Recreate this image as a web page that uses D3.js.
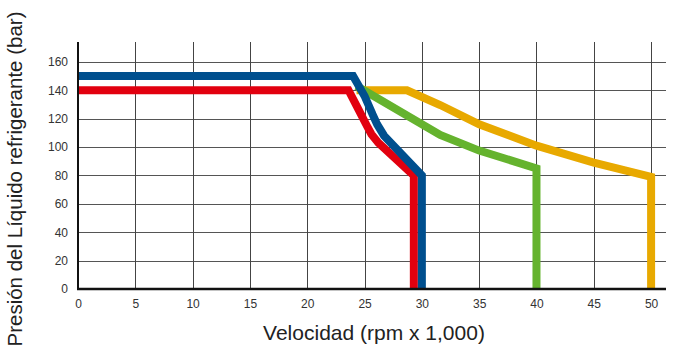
<!DOCTYPE html>
<html><head><meta charset="utf-8">
<script src="https://cdn.jsdelivr.net/npm/d3@7"></script>
<style>
html,body{margin:0;padding:0;background:#fff;}
svg{display:block;font-family:"Liberation Sans",Arial,sans-serif;}
</style></head>
<body>
<svg id="chart" width="682" height="356"></svg>
<script>
const xTicks = [0,5,10,15,20,25,30,35,40,45,50];
const yTicks = [0,20,40,60,80,100,120,140,160];
const xTitle = "Velocidad (rpm x 1,000)";
const yTitle = "Presión del Líquido refrigerante (bar)";

// series: [speed, pressure]
const orangeX = [24.3, 28.7, 31.6, 35, 40, 45, 50, 50];
const orangeY = [140, 140, 129.6, 116, 101, 89, 79, 0];
const greenX = [24.3, 31.6, 35, 40, 40];
const greenY = [143, 108.5, 97.5, 85, 0];
const redX = [0, 23.6, 24.5, 25.2, 25.6, 26.2, 29.3, 29.3];
const redY = [140, 140, 126, 115, 109, 103, 80, 0];
const blueX = [0, 24, 25, 25.7, 26.1, 26.7, 30, 30];
const blueY = [150, 150, 136, 123, 116, 108, 80, 0];

const series = [
  {x: orangeX, y: orangeY, color: "#e8a900"},
  {x: greenX, y: greenY, color: "#65b32e"},
  {x: redX, y: redY, color: "#e2000f"},
  {x: blueX, y: blueY, color: "#004f8e"}
];

const svg = d3.select("#chart");
const x = d3.scaleLinear().domain([0, 51.3]).range([78, 666]);
const y = d3.scaleLinear().domain([0, 174]).range([289, 42]);

// grid
svg.append("g").selectAll("line").data(yTicks.filter(d => d > 0)).join("line")
  .attr("x1", x(0)).attr("x2", x(51.3))
  .attr("y1", d => Math.round(y(d)) + 0.5).attr("y2", d => Math.round(y(d)) + 0.5)
  .attr("stroke", "#555").attr("stroke-width", 1);
svg.append("g").selectAll("line").data(xTicks.filter(d => d > 0)).join("line")
  .attr("y1", y(174)).attr("y2", y(0))
  .attr("x1", d => Math.round(x(d)) + 0.5).attr("x2", d => Math.round(x(d)) + 0.5)
  .attr("stroke", "#444").attr("stroke-width", 1);

// axes
const xAxis = d3.axisBottom(x).tickValues(xTicks).tickSize(0).tickPadding(10);
const gx = svg.append("g").attr("transform", `translate(0,${y(0)})`).call(xAxis);
gx.select(".domain").remove();
gx.selectAll("text").attr("font-size", 12).attr("fill", "#333").attr("font-family", "Liberation Sans, Arial, sans-serif");

const yAxis = d3.axisLeft(y).tickValues(yTicks).tickSize(0).tickPadding(10);
const gy = svg.append("g").attr("transform", `translate(${x(0)},0)`).call(yAxis);
gy.select(".domain").remove();
gy.selectAll("text").attr("font-size", 12).attr("fill", "#333").attr("font-family", "Liberation Sans, Arial, sans-serif");

// lines
const line = d3.line().x(d => x(d[0])).y(d => y(d[1]));
series.forEach(s => {
  const pts = s.x.map((v, i) => [v, s.y[i]]);
  svg.append("path").attr("d", line(pts))
    .attr("fill", "none").attr("stroke", s.color).attr("stroke-width", 8)
    .attr("stroke-linejoin", "miter").attr("stroke-linecap", "butt");
});

// axis lines
svg.append("line").attr("x1", x(0)).attr("x2", x(0)).attr("y1", y(174)).attr("y2", y(0) + 1)
  .attr("stroke", "#111").attr("stroke-width", 2);
svg.append("line").attr("x1", x(0) - 1).attr("x2", x(51.3)).attr("y1", y(0)).attr("y2", y(0))
  .attr("stroke", "#111").attr("stroke-width", 2.5);

// titles
svg.append("text").attr("x", 374).attr("y", 340).attr("text-anchor", "middle")
  .attr("font-size", 21).attr("fill", "#222").text(xTitle);
svg.append("text").attr("transform", "translate(22,179) rotate(-90)").attr("text-anchor", "middle")
  .attr("font-size", 20.5).attr("fill", "#222").text(yTitle);
</script>
</body></html>
